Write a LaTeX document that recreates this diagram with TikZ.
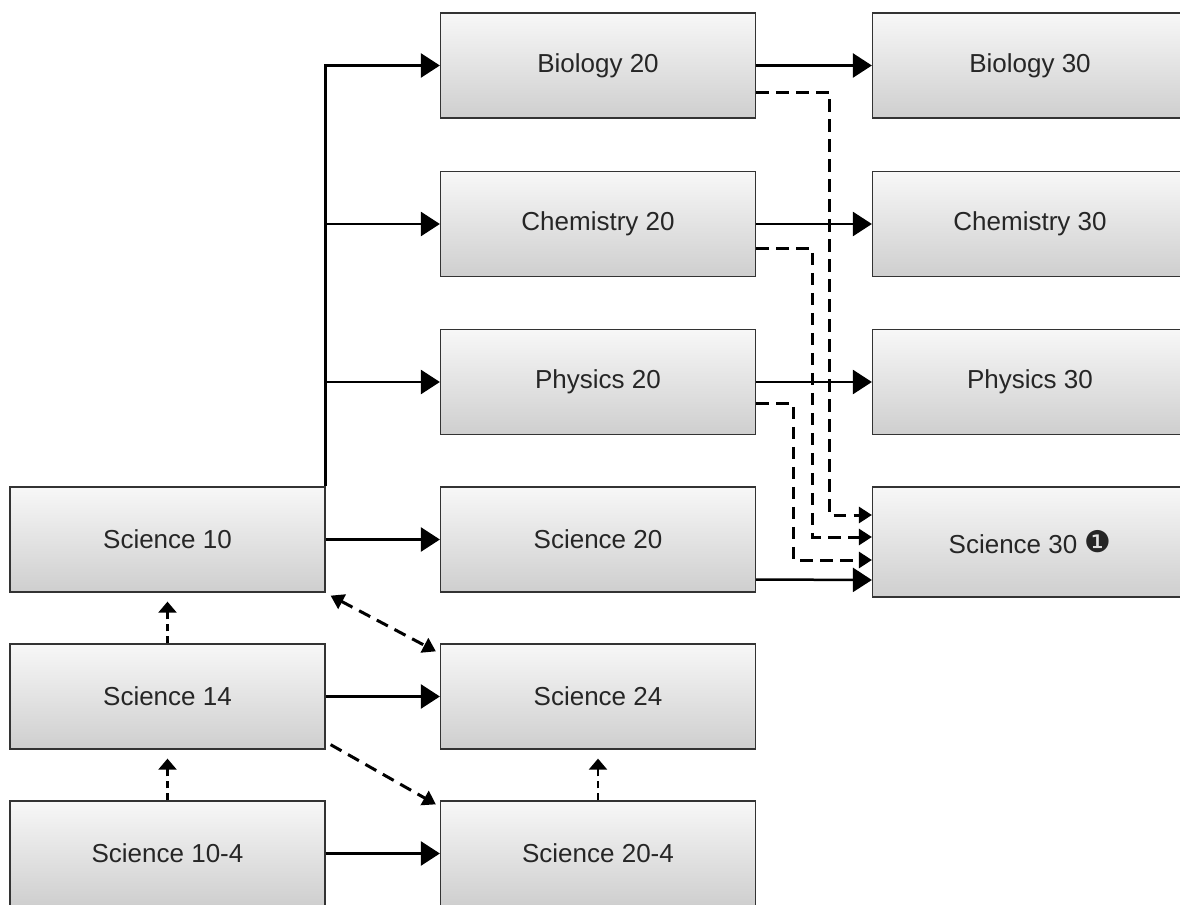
\documentclass[tikz,border=0pt]{standalone}
\usepackage{fontspec}
\setmainfont{Liberation Sans}
\newfontfamily\symfont{DejaVu Sans}
\usepackage{tikz}
\usetikzlibrary{arrows.meta,calc}

\tikzset{
	course/.style={draw=black!80, line width=0.026cm, top color=white!97!black, bottom color=black!19,
		minimum width=6.3cm, minimum height=2.1cm, inner sep=0pt, text=black!85,
		font=\fontsize{14.8}{17}\selectfont},
	flow/.style={line width=0.05cm, -{Triangle[length=0.38cm,width=0.48cm]}},
	dflow/.style={line width=0.06cm, dash pattern=on 0.25cm off 0.15cm, -{Triangle[length=0.26cm,width=0.32cm]}},
	upflow/.style={line width=0.045cm, dash pattern=on 0.15cm off 0.09cm, -{Triangle[length=0.22cm,width=0.36cm]}, shorten >=0.18cm},
	dboth/.style={dflow, {Triangle[length=0.26cm,width=0.32cm]}-{Triangle[length=0.26cm,width=0.32cm]}}
}

\begin{document}
\begin{tikzpicture}[x=0.02cm, y=-0.02cm]
	\useasboundingbox (0,0) rectangle (1180,905);
	\clip (0,0) rectangle (1180,905);
	\node[course] (s10) at (167.5, 539.5) {Science 10};
	\node[course] (s14) at (167.5, 696.5) {Science 14};
	\node[course] (s104) at (167.5, 853.5) {Science 10-4};
	\node[course] (b20) at (598, 65.5) {Biology 20};
	\node[course] (c20) at (598, 224) {Chemistry 20};
	\node[course] (p20) at (598, 382) {Physics 20};
	\node[course] (s20) at (598, 539.5) {Science 20};
	\node[course] (s24) at (598, 696.5) {Science 24};
	\node[course] (s204) at (598, 853.5) {Science 20-4};
	\node[course] (b30) at (1030, 65.5) {Biology 30};
	\node[course] (c30) at (1030, 224) {Chemistry 30};
	\node[course] (p30) at (1030, 382) {Physics 30};
	\node[course, minimum height=2.2cm] (s30) at (1030, 542) {Science 30 {\symfont\fontsize{17}{17}\selectfont\raisebox{0.3pt}{❶}}};
	% Science 10 branches
	\draw[flow] (s10.north east) |- (b20);
	\draw[flow] (s10.north east |- c20) -- (c20);
	\draw[flow] (s10.north east |- p20) -- (p20);
	\draw[flow] (s10) -- (s20);
	\draw[flow] (s14) -- (s24);
	\draw[flow] (s104) -- (s204);
	\draw[flow] (b20) -- (b30);
	\draw[flow] (c20) -- (c30);
	\draw[flow] (p20) -- (p30);
	\draw[flow] ($(s20.east)+(0,40)$) -- ($(s30.west)+(0,38)$);
	% 20-level courses into Science 30
	\draw[dflow] ($(b20.east)+(0,27)$) -- ++(73,0) |- ($(s30.west)+(0,-27)$);
	\draw[dflow] ($(c20.east)+(0,25)$) -- ++(56,0) |- ($(s30.west)+(0,-5)$);
	\draw[dflow] ($(p20.east)+(0,22)$) -- ++(37,0) |- ($(s30.west)+(0,18)$);
	% transfers
	\draw[upflow] (s14) -- (s10);
	\draw[upflow] (s104) -- (s14);
	\draw[upflow] (s204) -- (s24);
	\draw[dboth] ($(s10.south east)+(5,3)$) -- ($(s24.north west)+(-4,8)$);
	\draw[dflow] ($(s14.south east)+(5,-5)$) -- ($(s204.north west)+(-4,4)$);
\end{tikzpicture}
\end{document}
